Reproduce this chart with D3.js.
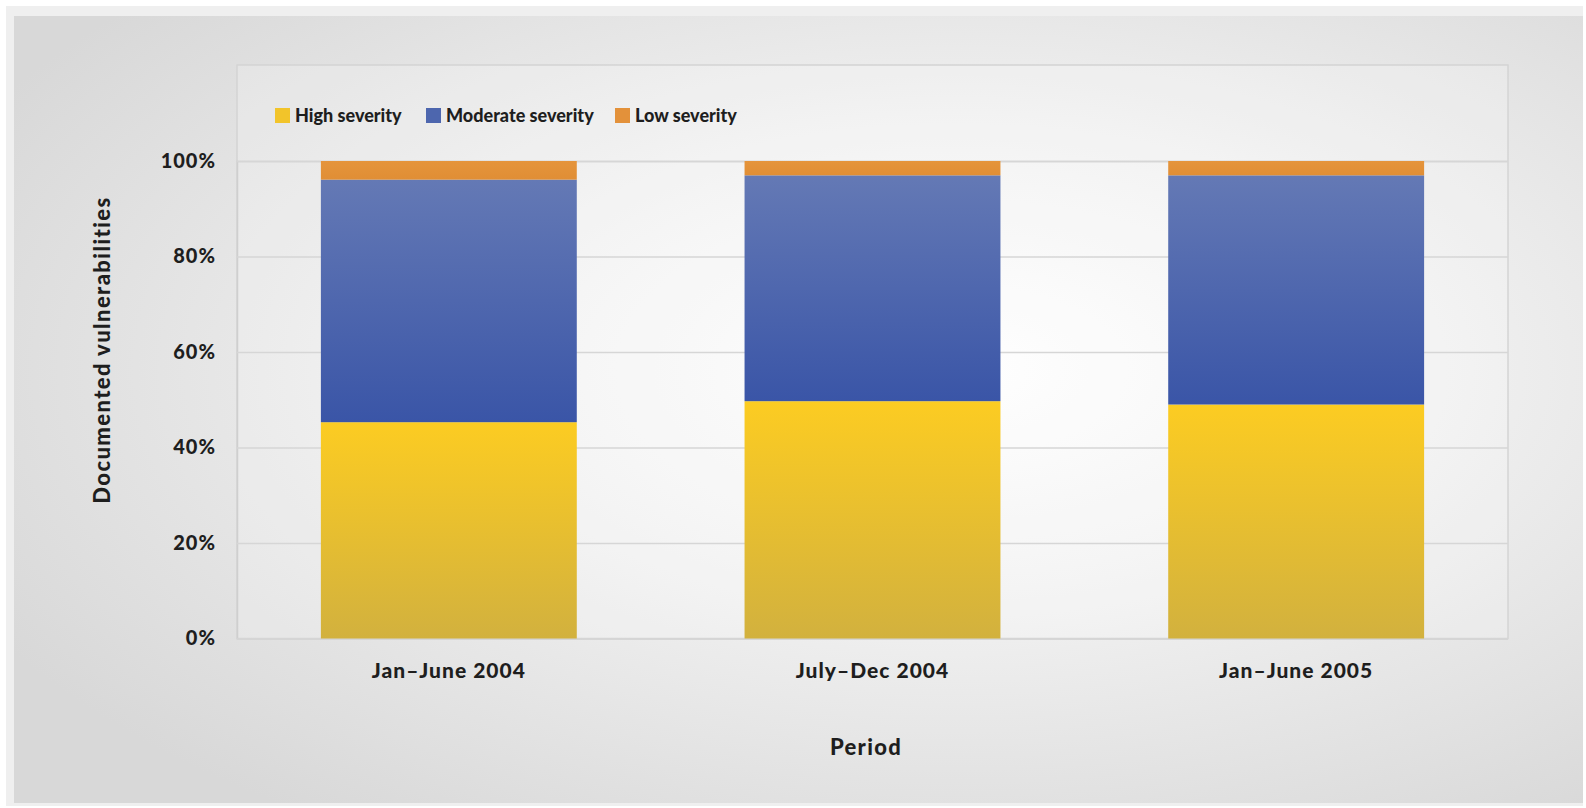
<!DOCTYPE html>
<html><head><meta charset="utf-8">
<script src="https://cdn.jsdelivr.net/npm/d3@7"></script>
<style>html,body{margin:0;padding:0;background:#fff;overflow:hidden}</style>
</head><body>
<svg id="chart" width="1586" height="808"></svg>
<script>
const categories = ["Jan\u2013June 2004", "July\u2013Dec 2004", "Jan\u2013June 2005"];
const seriesNames = ["High severity", "Moderate severity", "Low severity"];
const highValues = [45.3, 49.7, 49.0];
const moderateValues = [50.8, 47.3, 48.0];
const lowValues = [3.9, 3.0, 3.0];
const yTicks = [0, 20, 40, 60, 80, 100];

const svg = d3.select("#chart");
const W = 1586, H = 808;
const font = "Lato, 'Open Sans', sans-serif";
const defs = svg.append("defs");

const bg = defs.append("radialGradient").attr("id","bg").attr("cx","0.6").attr("cy","0.45").attr("r","0.7");
bg.append("stop").attr("offset","0").attr("stop-color","#ffffff");
bg.append("stop").attr("offset","0.4").attr("stop-color","#f2f2f2");
bg.append("stop").attr("offset","1").attr("stop-color","#d8d8d8");

const gy = defs.append("linearGradient").attr("id","gYellow").attr("x1",0).attr("y1",0).attr("x2",0).attr("y2",1);
gy.append("stop").attr("offset","0").attr("stop-color","#fccc22");
gy.append("stop").attr("offset","1").attr("stop-color","#d2b13e");
const gb = defs.append("linearGradient").attr("id","gBlue").attr("x1",0).attr("y1",0).attr("x2",0).attr("y2",1);
gb.append("stop").attr("offset","0").attr("stop-color","#6479b5");
gb.append("stop").attr("offset","1").attr("stop-color","#3a55a7");
const go = defs.append("linearGradient").attr("id","gOrange").attr("x1",0).attr("y1",0).attr("x2",0).attr("y2",1);
go.append("stop").attr("offset","0").attr("stop-color","#e5943b");
go.append("stop").attr("offset","1").attr("stop-color","#e08e35");
const fills = ["url(#gYellow)","url(#gBlue)","url(#gOrange)"];
const legendFills = ["#f2c42a","#4d66ae","#e3913a"];

// outer frame
svg.append("rect").attr("x",6).attr("y",6).attr("width",W-9).attr("height",H-8).attr("fill","#efefef");
svg.append("rect").attr("x",14).attr("y",16).attr("width",W-17).attr("height",H-21).attr("fill","url(#bg)");

const M = {left:237, right:1508, top:65, bottom:638.5};
const y0 = 638.5, y100 = 161;
const x = d3.scaleBand().domain(categories).range([M.left, M.right]).paddingInner(0.396).paddingOuter(0.198);
const y = d3.scaleLinear().domain([0,100]).range([y0, y100]);

// plot frame
svg.append("rect").attr("x",M.left).attr("y",M.top).attr("width",M.right-M.left).attr("height",M.bottom-M.top)
  .attr("fill","#ffffff").attr("fill-opacity",0.2).attr("stroke","#d4d4d4").attr("stroke-width",1.5);

// grid + y axis
const yAxis = d3.axisLeft(y).tickValues(yTicks).tickSize(-(M.right-M.left)).tickFormat(d=>d+"%").tickPadding(21);
const ga = svg.append("g").attr("transform",`translate(${M.left},0)`).call(yAxis);
ga.select(".domain").attr("stroke","#cfcfcf").attr("stroke-width",1.5);
ga.selectAll(".tick line").attr("stroke","#d6d6d6").attr("stroke-width",1.5);
ga.selectAll(".tick text").attr("font-family",font).attr("font-weight","900").attr("font-size",20)
  .attr("letter-spacing","1px").attr("fill","#1e1e1e");

// bars
const stackData = categories.map((c,i)=>({cat:c, high:highValues[i], moderate:moderateValues[i], low:lowValues[i]}));
const stack = d3.stack().keys(["high","moderate","low"]);
const layers = stack(stackData);
svg.append("g").selectAll("g").data(layers).join("g")
  .attr("fill",(d,i)=>fills[i])
  .selectAll("rect").data(d=>d).join("rect")
  .attr("x",d=>x(d.data.cat)).attr("width",x.bandwidth())
  .attr("y",d=>y(Math.min(100,d[1]))).attr("height",d=>y(d[0])-y(Math.min(100,d[1])));

// x labels
svg.append("g").selectAll("text").data(categories).join("text")
  .attr("x",d=>x(d)+x.bandwidth()/2).attr("y",678)
  .attr("text-anchor","middle").attr("font-family",font).attr("font-weight","900").attr("font-size",21)
  .attr("letter-spacing","1px").attr("fill","#1e1e1e")
  .text(d=>d);

// axis titles
svg.append("text").attr("x",866).attr("y",755).attr("text-anchor","middle")
  .attr("font-family",font).attr("font-weight","900").attr("font-size",22).attr("letter-spacing","1.3px")
  .attr("fill","#1e1e1e").text("Period");
svg.append("text").attr("transform","translate(110,350) rotate(-90)").attr("text-anchor","middle")
  .attr("font-family",font).attr("font-weight","900").attr("font-size",22).attr("letter-spacing","1.4px")
  .attr("fill","#1e1e1e").text("Documented vulnerabilities");

// legend
const legX = [275, 426, 615];
const lg = svg.append("g").selectAll("g").data(seriesNames).join("g")
  .attr("transform",(d,i)=>`translate(${legX[i]},108)`);
lg.append("rect").attr("width",15).attr("height",15).attr("fill",(d,i)=>legendFills[i]);
lg.append("text").attr("x",20).attr("y",13.5).attr("font-family",font).attr("font-weight","900").attr("font-size",18).attr("fill","#1e1e1e").text(d=>d);
</script>
</body></html>
